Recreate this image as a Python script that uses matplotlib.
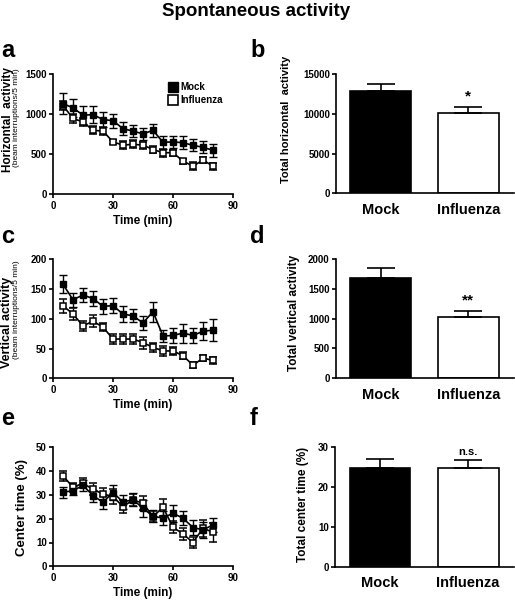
import numpy as np
import matplotlib
matplotlib.use("Agg")
import matplotlib.pyplot as plt
from matplotlib.lines import Line2D

plt.rcParams['font.family'] = ['Liberation Sans', 'DejaVu Sans']
plt.rcParams['font.weight'] = 'bold'

# time points (min)
time = [5, 10, 15, 20, 25, 30, 35, 40, 45, 50, 55, 60, 65, 70, 75, 80]

# horizontal activity (beam interruptions / 5 min)
horiz_mock = [1135, 1080, 990, 995, 935, 920, 820, 790, 755, 800, 650, 655, 645, 612, 588, 550]
horiz_mock_err = [130, 110, 110, 105, 90, 85, 80, 75, 70, 85, 80, 70, 80, 75, 75, 80]
horiz_flu = [1110, 948, 905, 800, 790, 655, 615, 625, 615, 560, 520, 520, 415, 352, 428, 352]
horiz_flu_err = [60, 60, 50, 50, 50, 30, 50, 50, 45, 40, 50, 40, 30, 50, 40, 45]

# vertical activity
vert_mock = [158, 132, 140, 134, 121, 122, 108, 105, 93, 112, 71, 72, 76, 72, 79, 81]
vert_mock_err = [15, 12, 12, 12, 13, 13, 13, 11, 12, 17, 10, 13, 16, 13, 15, 19]
vert_flu = [122, 108, 88, 96, 86, 66, 66, 66, 60, 52, 46, 46, 38, 22, 34, 30]
vert_flu_err = [12, 10, 8, 10, 7, 8, 8, 8, 10, 8, 8, 7, 6, 5, 5, 6]

# center time (%)
center_mock = [31.1, 31.8, 34.0, 29.7, 26.9, 31.0, 27.0, 28.0, 24.4, 21.0, 20.3, 22.3, 20.2, 16.3, 15.3, 17.4]
center_mock_err = [2.2, 2.0, 2.2, 2.5, 2.8, 3.0, 3.0, 2.8, 3.5, 2.5, 3.0, 3.5, 3.0, 3.0, 3.5, 3.0]
center_flu = [38.0, 33.2, 34.9, 32.3, 30.4, 29.3, 25.1, 27.9, 26.5, 20.9, 24.8, 16.4, 13.6, 10.0, 16.0, 14.3]
center_flu_err = [2.0, 2.0, 2.2, 2.5, 2.5, 3.0, 2.8, 2.5, 3.0, 2.2, 3.5, 2.5, 2.5, 2.5, 3.5, 4.0]

# totals
groups = ['Mock', 'Influenza']
total_horiz = [12850, 10170]
total_horiz_err = [970, 760]
total_vert = [1690, 1022]
total_vert_err = [157, 107]
total_center = [24.9, 24.7]
total_center_err = [2.1, 2.0]

W, H = 515, 600
fig = plt.figure(figsize=(W / 100, H / 100), dpi=100)


def px_axes(x0, y0, x1, y1):
    return fig.add_axes([x0 / W, 1 - y1 / H, (x1 - x0) / W, (y1 - y0) / H])


def style(ax):
    for s in ['top', 'right']:
        ax.spines[s].set_visible(False)
    for s in ['left', 'bottom']:
        ax.spines[s].set_linewidth(1.2)
    ax.tick_params(direction='out', length=3, width=1.2, labelsize=7, pad=1.5)
    for lab in ax.get_xticklabels() + ax.get_yticklabels():
        lab.set_fontweight('bold')


def time_panel(ax, mock, mock_err, flu, flu_err, ymax, ystep):
    ax.errorbar(time, flu, yerr=flu_err, color='black', marker='s', markersize=5,
                markerfacecolor='white', markeredgecolor='black', markeredgewidth=1.1,
                linewidth=1.2, capsize=3, elinewidth=1, capthick=1)
    ax.errorbar(time, mock, yerr=mock_err, color='black', marker='s', markersize=5,
                markerfacecolor='black', markeredgecolor='black',
                linewidth=1.2, capsize=3, elinewidth=1, capthick=1)
    ax.set_xlim(0, 90)
    ax.set_ylim(0, ymax)
    ax.set_xticks([0, 30, 60, 90])
    ax.set_yticks(np.arange(0, ymax + 1, ystep))
    ax.set_xlabel('Time (min)', fontsize=8.5, fontweight='bold', labelpad=3)
    style(ax)


def bar_panel(ax, vals, errs, ymax, ystep, ylabel, sig, lab_size, lab_xy):
    x = np.arange(len(groups))
    ax.bar(x, vals, width=0.69, color=['black', 'white'], edgecolor='black', linewidth=1.2)
    ax.errorbar(x, vals, yerr=[[0, 0], errs], fmt='none', ecolor='black',
                elinewidth=1.2, capsize=10, capthick=1.2)
    ax.set_xlim(-0.51, 1.52)
    ax.set_ylim(0, ymax)
    ax.set_yticks(np.arange(0, ymax + 1, ystep))
    ax.set_xticks(x)
    ax.set_xticklabels(groups)
    style(ax)
    ax.tick_params(axis='x', length=0, labelsize=10.5, pad=7)
    ax.set_ylabel(ylabel, fontsize=lab_size, fontweight='bold')
    ax.yaxis.set_label_coords(*lab_xy)
    ax.text(1, vals[1] + errs[1] + ymax * 0.03, sig, ha='center', va='bottom',
            fontsize=11 if '*' in sig else 8, fontweight='bold')


# panel a
ax_a = px_axes(53, 74.3, 233, 194.3)
time_panel(ax_a, horiz_mock, horiz_mock_err, horiz_flu, horiz_flu_err, 1500, 500)
fig.text(8 / W, 1 - 120 / H, 'Horizontal  activity', rotation=90, ha='center', va='center',
         fontsize=8.5, fontweight='bold')
fig.text(16.5 / W, 1 - 118 / H, '(beam interruptions/5 min)', rotation=90, ha='center', va='center',
         fontsize=6, fontweight='normal')
handles = [Line2D([], [], linestyle='none', marker='s', markersize=6.5, color='black'),
           Line2D([], [], linestyle='none', marker='s', markersize=6.5, markerfacecolor='white',
                  markeredgecolor='black', markeredgewidth=1.2)]
ax_a.legend(handles, ['Mock', 'Influenza'], loc='upper left', bbox_to_anchor=(0.6, 1.0),
            frameon=False, handlelength=0.8, handletextpad=0.4, labelspacing=0.3,
            prop={'size': 7, 'weight': 'bold'}, borderpad=0.3)

# panel c
ax_c = px_axes(53, 259.3, 233, 378.3)
time_panel(ax_c, vert_mock, vert_mock_err, vert_flu, vert_flu_err, 200, 50)
fig.text(7 / W, 1 - 322 / H, 'Vertical activity', rotation=90, ha='center', va='center',
         fontsize=9, fontweight='bold')
fig.text(16.5 / W, 1 - 310 / H, '(beam interruptions/5 min)', rotation=90, ha='center', va='center',
         fontsize=6, fontweight='normal')

# panel e
ax_e = px_axes(53, 447.3, 233, 566.3)
time_panel(ax_e, center_mock, center_mock_err, center_flu, center_flu_err, 50, 10)
ax_e.set_ylabel('Center time (%)', fontsize=9.5, fontweight='bold')
ax_e.yaxis.set_label_coords(-0.14, 0.49)

# bar panels
ax_b = px_axes(336, 74.3, 514, 193.3)
bar_panel(ax_b, total_horiz, total_horiz_err, 15000, 5000, 'Total horizontal  activity', '*',
          8, (-0.255, 0.62))
ax_d = px_axes(336, 259.3, 514, 378)
bar_panel(ax_d, total_vert, total_vert_err, 2000, 500, 'Total vertical activity', '**',
          8.5, (-0.205, 0.55))
ax_f = px_axes(335, 447.3, 514, 566.7)
bar_panel(ax_f, total_center, total_center_err, 30, 10, 'Total center time (%)', 'n.s.',
          8.5, (-0.146, 0.52))

# title and panel letters
fig.text(256 / W, 1 - 11 / H, 'Spontaneous activity', ha='center', va='center',
         fontsize=13.5, fontweight='bold')
for letter, xp, yp in [('a', 1, 57), ('b', 250, 57), ('c', 1, 243), ('d', 250, 243),
                       ('e', 1, 425), ('f', 250, 425)]:
    fig.text(xp / W, 1 - yp / H, letter, ha='left', va='baseline', fontsize=17, fontweight='bold')

fig.savefig('out.png', dpi=100)
